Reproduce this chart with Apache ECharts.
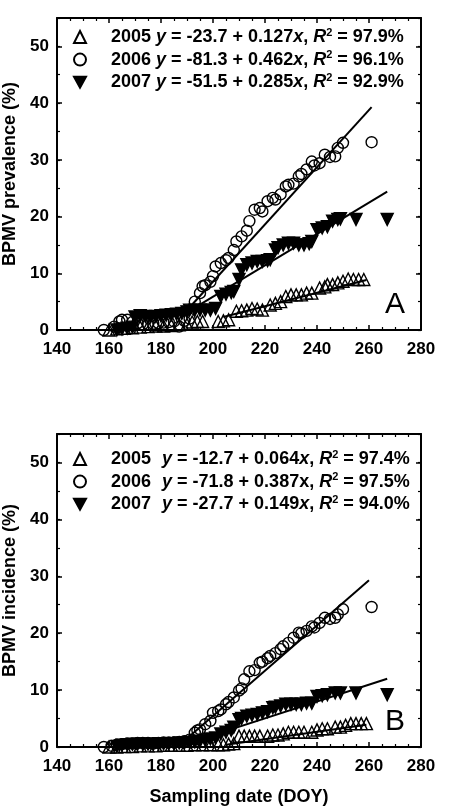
<!DOCTYPE html>
<html>
<head>
<meta charset="utf-8">
<script src="https://cdn.jsdelivr.net/npm/echarts@6/dist/echarts.min.js"></script>
<style>
  html, body { margin: 0; padding: 0; background: #fff; }
  #chart { width: 452px; height: 810px; }
</style>
</head>
<body>
<div id="chart"></div>
<script>
// x ticks / y ticks
const xTicks = [140, 160, 180, 200, 220, 240, 260, 280];
const yTicks = [0, 10, 20, 30, 40, 50];

// legend text
const years = ['2005', '2006', '2007'];
const eqA = ['-23.7 + 0.127', '-81.3 + 0.462', '-51.5 + 0.285'];
const r2A = ['97.9', '96.1', '92.9'];
const eqB = ['-12.7 + 0.064', '-71.8 + 0.387', '-27.7 + 0.149'];
const r2B = ['97.4', '97.5', '94.0'];

// Panel A: prevalence
const doyA2005 = [160,163,166,169,172,175,178,181,184,187,190,192,194,196,202,204,206,209,211,213,215,217,219,222,224,226,228,230,232,234,236,238,241,243,244,246,248,250,252,254,256,258];
const valA2005 = [0,0.2,0.3,0.4,0.5,0.6,0.7,0.7,0.8,0.9,1.0,1.4,1.5,1.5,1.5,1.6,1.8,3.3,3.4,3.5,3.8,3.7,3.5,4.4,4.7,5.0,5.9,6.2,6.2,6.2,6.5,6.5,7.4,7.6,8.0,8.0,8.3,8.6,9.0,8.9,8.9,8.9];
const doyA2006 = [158,162,164,165,167,169,171,173,175,177,179,181,183,185,187,189,191,193,195,196,197,199,200,201,203,205,206,208,209,211,213,214,216,218,219,221,223,224,226,228,229,231,233,234,236,238,239,241,243,245,247,248,250,261];
const valA2006 = [0,0.6,1.5,1.8,1.8,1.4,1.2,1.0,1.0,1.1,1.2,1.3,1.4,1.5,0.6,1.6,2.0,5.0,6.5,7.7,7.9,8.5,9.5,11.2,11.8,12.3,12.7,14.1,15.6,16.5,17.5,19.2,21.2,21.5,20.9,22.7,23.3,23.0,23.9,25.3,25.6,25.8,27.1,27.5,28.3,29.7,29.0,29.4,30.9,30.5,30.6,32.1,33.0,33.1];
const doyA2007 = [163,165,167,169,170,172,174,176,178,180,182,184,186,188,190,191,193,195,197,199,201,203,205,207,208,210,211,213,215,217,219,221,222,224,225,227,229,231,233,235,237,238,240,242,244,246,248,249,255,267];
const valA2007 = [0,0.2,0.3,0.5,2.3,2.5,2.4,2.3,2.4,2.5,2.6,2.7,2.8,2.9,3.2,3.5,3.5,3.5,3.5,3.5,3.8,5.9,6.3,6.6,6.8,8.9,10.6,11.5,11.8,12.1,12.1,12.2,12.4,14.1,14.5,15.0,15.3,15.3,15.0,15.0,15.2,15.6,17.7,18.0,18.2,19.2,19.5,19.6,19.5,19.5];

// Panel B: incidence
const doyB2005 = [160,163,166,169,172,175,178,181,184,187,190,193,196,199,202,204,206,208,210,212,214,216,218,221,223,225,227,229,231,233,235,238,240,242,244,247,249,251,253,255,257,259];
const valB2005 = [0,0,0.1,0.1,0.2,0.2,0.2,0.3,0.3,0.3,0.3,0.4,0.4,0.4,0.4,0.4,0.5,0.6,1.9,1.9,1.9,1.9,1.9,1.9,2.1,2.1,2.3,2.6,2.6,2.6,2.6,2.6,3.0,3.2,3.2,3.5,3.5,3.8,4.1,4.1,4.1,4.1];
const doyB2006 = [158,161,163,165,167,169,171,173,175,177,179,181,183,185,187,189,191,193,194,195,197,199,200,202,203,205,206,208,210,211,212,214,216,218,219,221,222,224,226,227,229,231,233,234,236,238,239,241,243,245,247,248,250,261];
const valB2006 = [0,0.2,0.4,0.5,0.6,0.6,0.7,0.7,0.7,0.6,0.7,0.8,0.8,0.8,0.9,1.0,1.3,2.5,2.9,3.1,4.0,4.6,6.0,6.3,6.6,7.5,7.9,8.7,9.9,10.3,11.9,13.3,13.5,14.8,15.0,15.6,16.0,16.5,17.2,17.7,18.3,19.2,20.1,20.0,20.4,21.2,21.0,21.8,22.7,22.5,22.7,23.3,24.2,24.6];
const doyB2007 = [163,165,167,169,171,173,175,177,179,181,183,185,187,189,191,193,195,197,199,201,203,205,207,208,210,211,213,215,217,219,221,223,224,226,228,230,232,234,236,238,240,242,244,247,249,255,267];
const valB2007 = [0.1,0.3,0.4,0.5,0.5,0.5,0.5,0.5,0.6,0.6,0.6,0.6,0.7,0.7,0.8,0.9,1.0,1.2,1.4,1.6,2.3,2.6,2.9,3.5,4.8,5.0,5.4,5.6,5.7,6.0,6.2,6.9,7.0,7.2,7.5,7.5,7.5,7.5,7.7,7.7,8.9,9.0,9.2,9.5,9.5,9.5,9.2];

// fitted lines, end points
const fitA2005X = [204, 259], fitA2005Y = [2.3, 8.8];
const fitA2006X = [192, 261], fitA2006Y = [4.5, 39.3];
const fitA2007X = [194, 267], fitA2007Y = [4.2, 24.4];
const fitB2005X = [205, 259], fitB2005Y = [0.4, 3.9];
const fitB2006X = [190, 260], fitB2006Y = [1.5, 29.3];
const fitB2007X = [190, 267], fitB2007Y = [0.6, 12.0];

const FONT = '"Liberation Sans", Arial, sans-serif';
const pairs = (xs, ys) => xs.map((x, i) => [x, ys[i]]);

const chart = echarts.init(document.getElementById('chart'), null, { renderer: 'canvas' });

const grids = [
  { left: 57, top: 18, width: 364, height: 312, outerBoundsMode: 'none', containLabel: false },
  { left: 57, top: 434, width: 364, height: 313, outerBoundsMode: 'none', containLabel: false }
];

function xAxes(gi, withName) {
  const base = {
    gridIndex: gi, type: 'value', min: xTicks[0], max: xTicks[xTicks.length - 1], interval: 20,
    axisLine: { show: true, onZero: false, lineStyle: { color: '#000', width: 2 } },
    axisTick: { show: true, inside: true, length: 5, lineStyle: { color: '#000', width: 1.5 } },
    minorTick: { show: true, splitNumber: 4, length: 3, lineStyle: { color: '#000', width: 1.2 } },
    splitLine: { show: false }
  };
  return [
    Object.assign({}, base, {
      position: 'bottom',
      axisLabel: { color: '#000', fontFamily: FONT, fontWeight: 'bold', fontSize: 17, margin: 11 },
      name: withName ? 'Sampling date (DOY)' : '',
      nameLocation: 'middle', nameGap: 41,
      nameTextStyle: { color: '#000', fontFamily: FONT, fontWeight: 'bold', fontSize: 18 }
    }),
    Object.assign({}, base, { position: 'top', axisLabel: { show: false } })
  ];
}

function yAxes(gi, name) {
  const base = {
    gridIndex: gi, type: 'value', min: 0, max: 55,
    splitLine: { show: false }
  };
  const major = Object.assign({}, base, {
    interval: 10,
    axisLine: { show: true, onZero: false, lineStyle: { color: '#000', width: 2 } },
    axisTick: { show: true, inside: true, length: 5, lineStyle: { color: '#000', width: 1.5 } }
  });
  const minor = Object.assign({}, base, {
    interval: 5,
    axisLine: { show: false },
    axisTick: { show: true, inside: true, length: 3, lineStyle: { color: '#000', width: 1.2 } },
    axisLabel: { show: false }
  });
  return [
    Object.assign({}, major, {
      position: 'left',
      axisLabel: { color: '#000', fontFamily: FONT, fontWeight: 'bold', fontSize: 17, margin: 8, showMaxLabel: false },
      name: name, nameLocation: 'middle', nameGap: 38,
      nameTextStyle: { color: '#000', fontFamily: FONT, fontWeight: 'bold', fontSize: 18 }
    }),
    Object.assign({}, minor, { position: 'left' }),
    Object.assign({}, major, { position: 'right', axisLabel: { show: false } }),
    Object.assign({}, minor, { position: 'right' })
  ];
}

const richStyle = {
  g: { width: 20, lineHeight: 20 },
  w: { width: 6, lineHeight: 20 },
  t: { fontFamily: FONT, fontWeight: 'bold', fontSize: 18, lineHeight: 20, color: '#000' },
  i: { fontFamily: FONT, fontWeight: 'bold', fontStyle: 'italic', fontSize: 18, lineHeight: 20, color: '#000' },
  s: { fontFamily: FONT, fontWeight: 'bold', fontSize: 11, lineHeight: 12, verticalAlign: 'top', color: '#000' }
};

function legendText(idx, eq, r2, panel) {
  const gap = panel === 'B' ? '{w|}' : '';
  const xPart = (panel === 'B' && idx === 1) ? '{t|x}' : '{i|x}';
  return '{g|}{t|' + years[idx] + ' }' + gap + '{i|y}{t| = ' + eq[idx] + '}' + xPart +
    '{t|, }{i|R}{s|2}{t| = ' + r2[idx] + '%}';
}

const namesA = years.map(y => 'A' + y);
const namesB = years.map(y => 'B' + y);

const symbolDefs = [
  { symbol: 'triangle', rotate: 0, size: 12, fill: 'rgba(255,255,255,0)' },
  { symbol: 'circle', rotate: 0, size: 11, fill: 'rgba(255,255,255,0)' },
  { symbol: 'triangle', rotate: 180, size: 12, fill: '#000' }
];
const legendIcons = ['triangle', 'circle', 'path://M0,0 L10,0 L5,9 Z'];

function scatter(name, gi, xs, ys, k) {
  const d = symbolDefs[k];
  return {
    name: name, type: 'scatter', xAxisIndex: gi * 2, yAxisIndex: gi * 4,
    symbol: d.symbol, symbolRotate: d.rotate, symbolSize: d.size,
    itemStyle: { color: d.fill, borderColor: '#000', borderWidth: 1.4, opacity: 1 },
    data: pairs(xs, ys), silent: true, z: 3
  };
}

function fit(gi, xs, ys) {
  return {
    type: 'line', xAxisIndex: gi * 2, yAxisIndex: gi * 4,
    symbol: 'none', data: pairs(xs, ys), silent: true, z: 4,
    lineStyle: { color: '#000', width: 2 }
  };
}

function legend(top, names, eq, r2, panel) {
  return {
    orient: 'vertical', left: 73, top: top, padding: 0,
    itemWidth: 12, itemHeight: 12, itemGap: 3.6,
    selectedMode: false,
    data: names.map((n, i) => ({ name: n, icon: legendIcons[i], symbolRotate: 0 })),
    formatter: n => legendText(names.indexOf(n), eq, r2, panel),
    textStyle: { rich: richStyle }
  };
}

const option = {
  backgroundColor: '#fff',
  animation: false,
  grid: grids,
  xAxis: xAxes(0, false).concat(xAxes(1, true)),
  yAxis: yAxes(0, 'BPMV prevalence (%)').concat(yAxes(1, 'BPMV incidence (%)')),
  legend: [
    legend(27, namesA, eqA, r2A, 'A'),
    legend(449, namesB, eqB, r2B, 'B')
  ],
  graphic: [
    { type: 'text', left: 385, top: 290, style: { text: 'A', fontFamily: FONT, fontSize: 30, fill: '#000' } },
    { type: 'text', left: 385, top: 707, style: { text: 'B', fontFamily: FONT, fontSize: 30, fill: '#000' } }
  ],
  series: [
    scatter(namesA[0], 0, doyA2005, valA2005, 0),
    scatter(namesA[1], 0, doyA2006, valA2006, 1),
    scatter(namesA[2], 0, doyA2007, valA2007, 2),
    fit(0, fitA2005X, fitA2005Y),
    fit(0, fitA2006X, fitA2006Y),
    fit(0, fitA2007X, fitA2007Y),
    scatter(namesB[0], 1, doyB2005, valB2005, 0),
    scatter(namesB[1], 1, doyB2006, valB2006, 1),
    scatter(namesB[2], 1, doyB2007, valB2007, 2),
    fit(1, fitB2005X, fitB2005Y),
    fit(1, fitB2006X, fitB2006Y),
    fit(1, fitB2007X, fitB2007Y)
  ]
};

chart.setOption(option);
</script>
</body>
</html>
